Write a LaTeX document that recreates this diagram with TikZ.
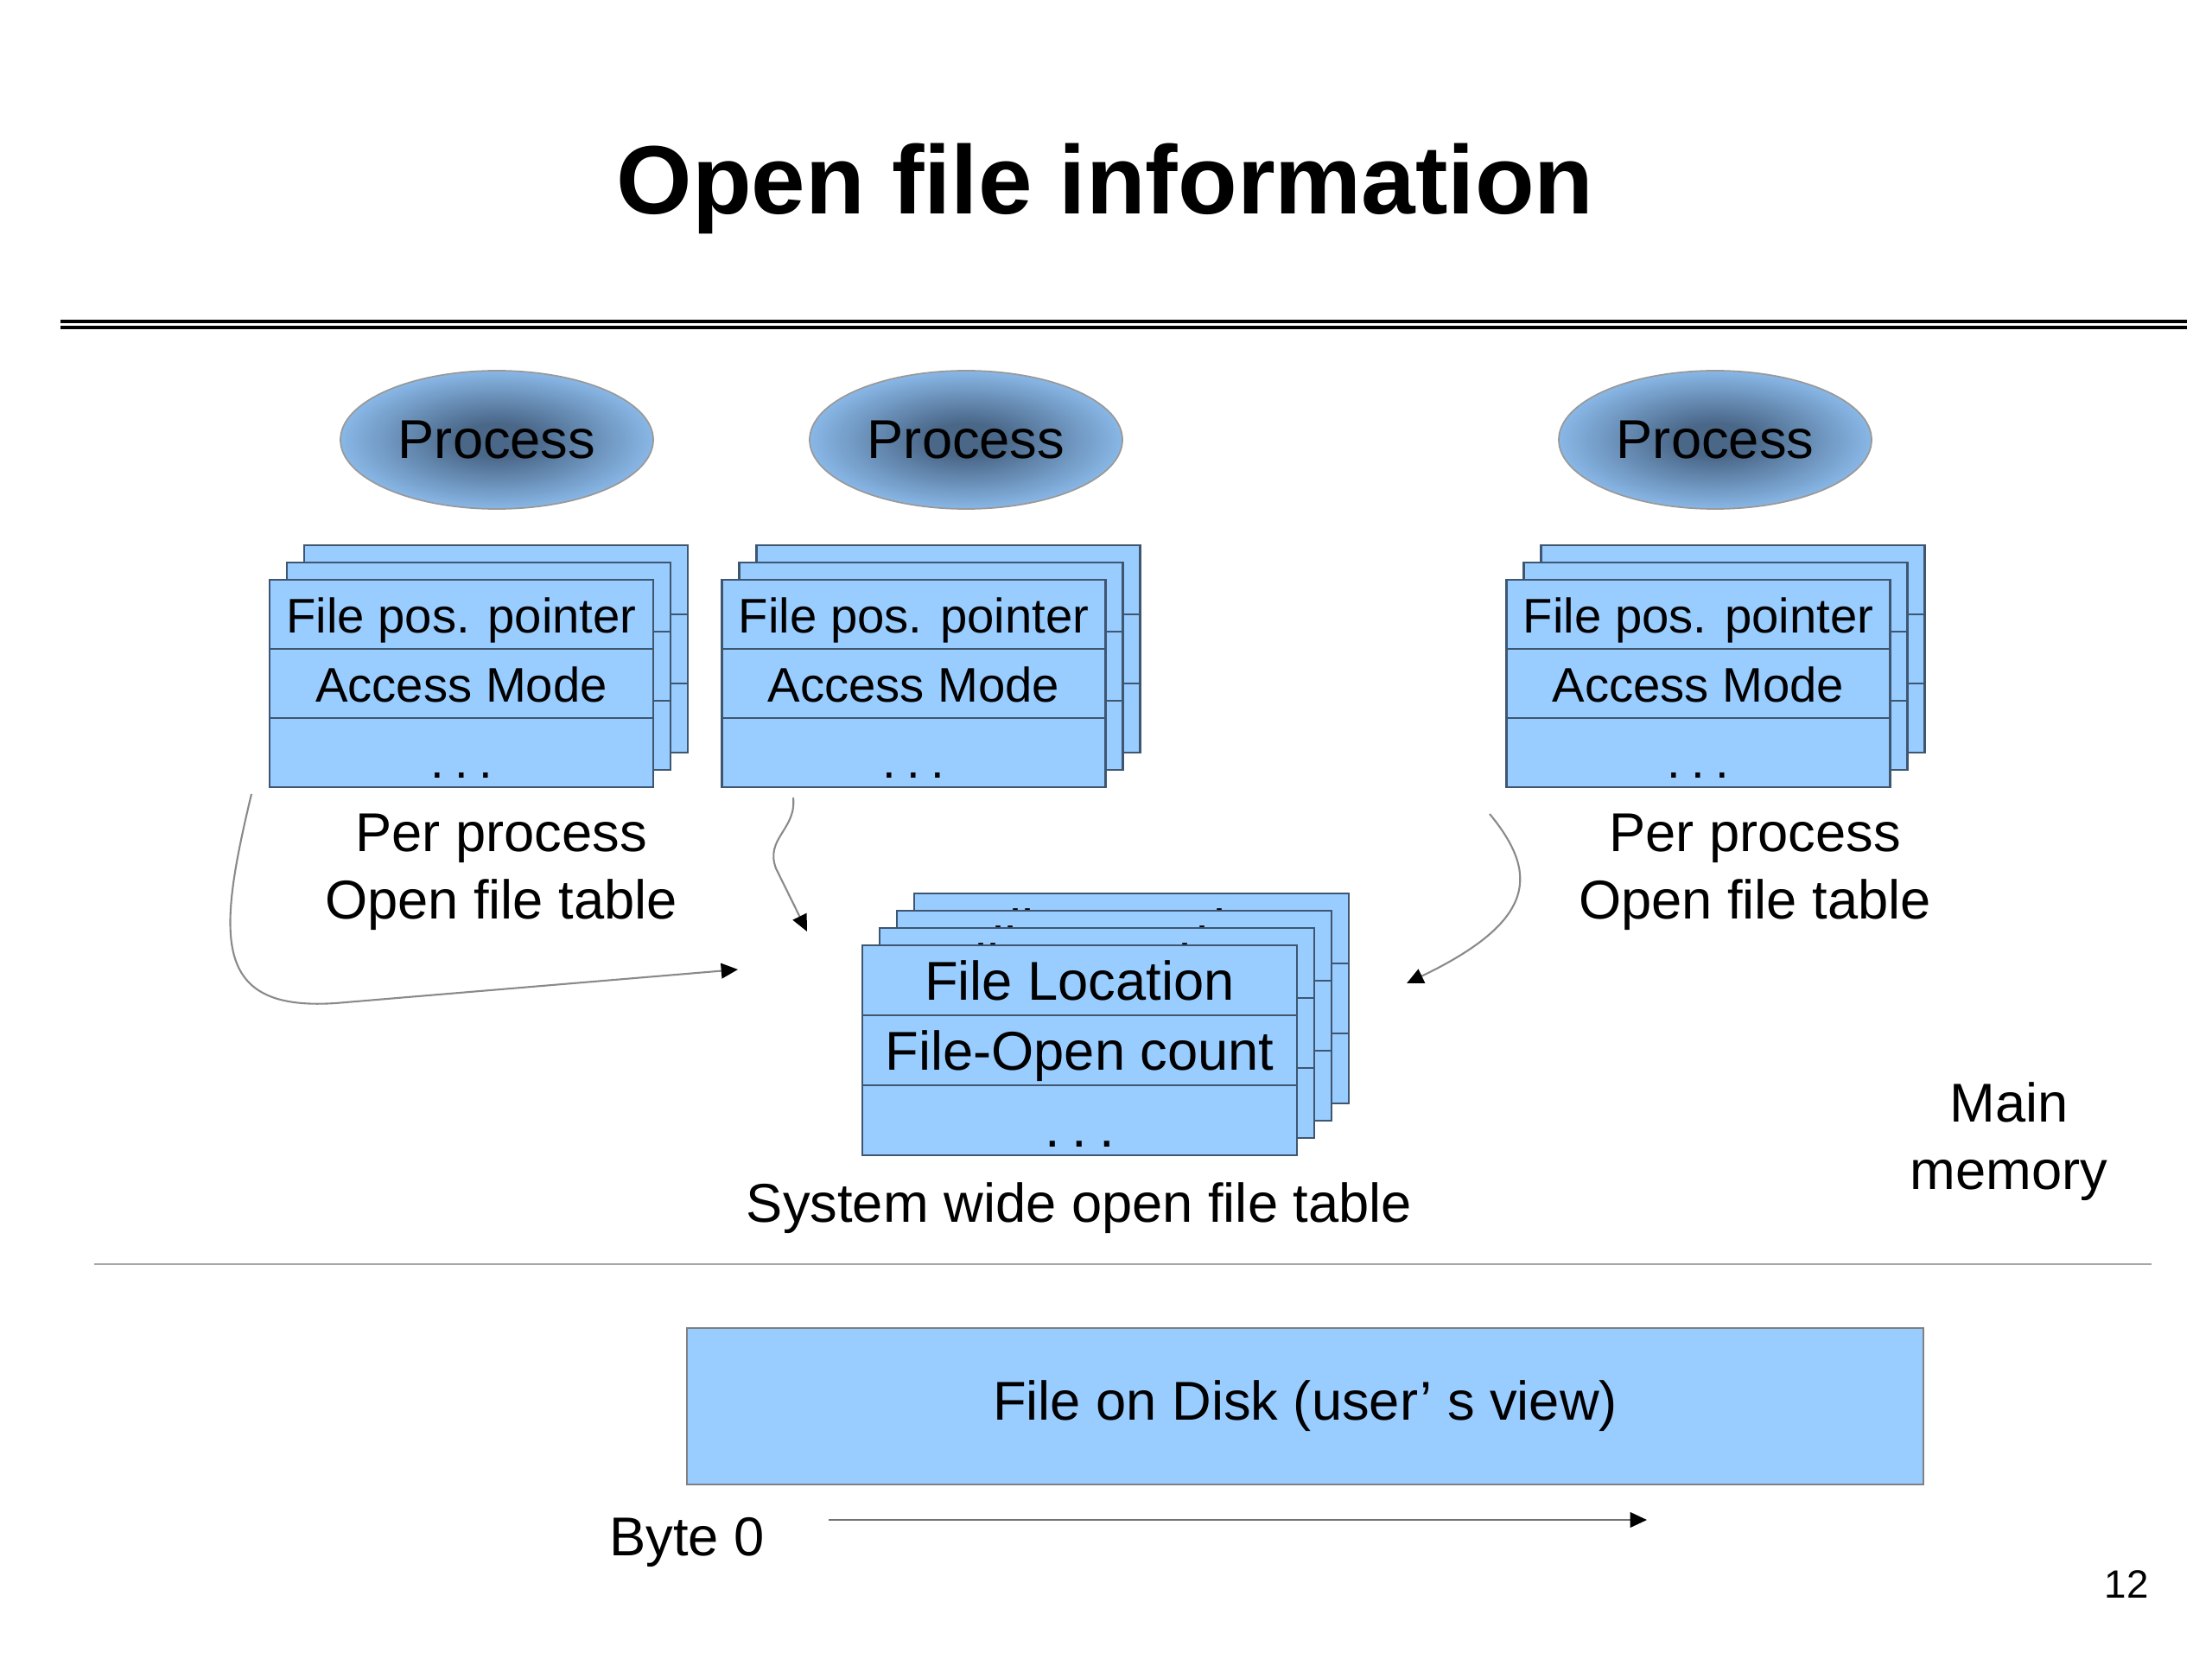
\documentclass[tikz,border=0pt]{standalone}
\usepackage{fontspec}
\setmainfont{Liberation Sans}
\usetikzlibrary{arrows.meta, shapes.geometric, calc}

\definecolor{fillblue}{HTML}{99CCFF}
\definecolor{procdark}{HTML}{4A6788}
\definecolor{tableedge}{HTML}{3E5670}
\definecolor{linkgray}{HTML}{8A8A8A}
\pgfdeclareradialshading{procshade}{\pgfpoint{0bp}{0bp}}{color(0bp)=(procdark); color(6bp)=(procdark); color(30bp)=(fillblue); color(50bp)=(fillblue)}
\newcommand{\celldots}{\raisebox{-2.5pt}{.\hspace{0.22em}.\hspace{0.22em}.}}

\begin{document}
\begin{tikzpicture}[
        proc/.style={ellipse, draw=gray!80, line width=0.5pt, shade, shading=procshade,
            minimum width=3.62cm, minimum height=1.6cm, inner sep=0pt, font=\fontsize{18}{22}\selectfont},
        cell/.style={rectangle, draw=tableedge, fill=fillblue, line width=0.6pt, inner sep=0pt,
            minimum width=4.44cm, minimum height=0.8cm, text height=13pt, text depth=1pt,
            font=\fontsize{16}{19}\selectfont},
        syscell/.style={cell, minimum width=5.03cm, minimum height=0.81cm, text height=14pt,
            text depth=1.1pt, font=\fontsize{18}{22}\selectfont},
        txt/.style={font=\fontsize{18}{22.3}\selectfont, align=center},
        link/.style={draw=linkgray, line width=0.6pt, -{Triangle[length=5.5pt, width=5pt, color=black]}}
    ]
    \useasboundingbox (0,0) rectangle (25.6,-19.2);

    % ---- Title and double rule ----
    \node[font=\bfseries\fontsize{32}{38}\selectfont, anchor=base] (title) at (12.79,-2.48) {Open file information};
    \draw[line width=1pt] (0.70,-3.72) -- (25.31,-3.72);
    \draw[line width=1pt] (0.70,-3.79) -- (25.31,-3.79);

    % ---- Processes ----
    \node[proc] (proc-l) at (5.75,-5.09) {Process};
    \node[proc] (proc-m) at (11.18,-5.09) {Process};
    \node[proc] (proc-r) at (19.85,-5.09) {Process};

    % ---- Per process open file tables (back layers first) ----
    \foreach \t/\cx in {lt/5.34, mt/10.575, rt/19.655}
        \foreach \k in {2,1,0} {
            \node[cell] (\t-\k-1) at (\cx+0.2*\k, -7.11+0.2*\k) {File pos. pointer};
            \node[cell] (\t-\k-2) at (\cx+0.2*\k, -7.91+0.2*\k) {Access Mode};
            \node[cell] (\t-\k-3) at (\cx+0.2*\k, -8.71+0.2*\k) {\celldots};
        }
    \node[txt] (lt-label) at (5.80,-10.09) {Per process\\Open file table};
    \node[txt] (rt-label) at (20.31,-10.09) {Per process\\Open file table};

    % ---- System wide open file table ----
    \foreach \k in {3,2,1,0} {
        \node[syscell] (st-\k-1) at (12.495+0.2*\k, -11.345+0.2*\k) {File Location};
        \node[syscell] (st-\k-2) at (12.495+0.2*\k, -12.155+0.2*\k) {File-Open count};
        \node[syscell] (st-\k-3) at (12.495+0.2*\k, -12.965+0.2*\k) {\celldots};
    }
    \node[txt, anchor=base] (st-label) at (12.49,-14.14) {System wide open file table};
    \node[txt] (mem) at (23.25,-13.21) {Main\\memory};

    % ---- Pointers into the system table ----
    \coordinate (l-from) at (2.91,-9.19);
    \coordinate (l-to) at (8.54,-11.22);
    \draw[link] (l-from) .. controls (2.50,-10.9) and (2.45,-11.75) .. (4.0,-11.6) -- (l-to);
    \coordinate (m-from) at (9.18,-9.23);
    \coordinate (m-to) at (9.34,-10.78);
    \draw[link] (m-from) .. controls (9.22,-9.6) and (8.85,-9.7) .. (8.98,-10.05) -- (m-to);
    \coordinate (r-from) at (17.24,-9.42);
    \coordinate (r-to) at (16.28,-11.38);
    \draw[link] (r-from) .. controls (17.8,-10.1) and (17.8,-10.65) .. (r-to);

    % ---- Memory / disk boundary ----
    \draw[gray!70, line width=0.6pt] (1.09,-14.63) -- (24.90,-14.63);

    % ---- File on disk ----
    \node[txt, draw=gray, fill=fillblue, line width=0.8pt, minimum width=14.31cm, minimum height=1.81cm] (disk) at (15.105,-16.275) {File on Disk (user’ s view)};
    \node[txt, anchor=base] (byte0) at (7.95,-18.00) {Byte 0};
    \coordinate (byte-from) at (9.59,-17.59);
    \coordinate (byte-to) at (19.06,-17.59);
    \draw[link, draw=gray!90!black] (byte-from) -- (byte-to);

    \node[font=\fontsize{13}{15}\selectfont, anchor=base] (pageno) at (24.61,-18.49) {12};
\end{tikzpicture}
\end{document}
